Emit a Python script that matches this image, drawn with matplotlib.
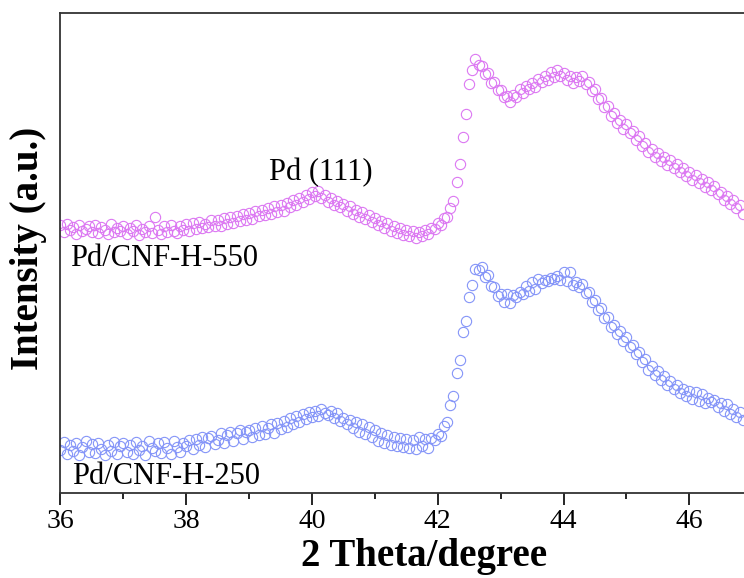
import numpy as np
import matplotlib
matplotlib.use("Agg")
import matplotlib.pyplot as plt
from matplotlib.ticker import MultipleLocator

plt.rcParams['font.family'] = ['Liberation Serif', 'DejaVu Serif']

# 2 theta grid of the scan (step 0.05 degree)
theta_start = 36.0
theta_step = 0.05

# intensity, arbitrary units
h550 = [
    275, 268, 276, 270, 273, 266, 275, 269, 271, 274,
    268, 275, 267, 273, 270, 266, 276, 268, 272, 269,
    274, 266, 272, 269, 275, 265, 271, 268, 274, 267,
    283, 270, 266, 274, 268, 275, 269, 267, 274, 270,
    276, 269, 277, 271, 278, 272, 276, 273, 280, 274,
    280, 274, 282, 276, 283, 277, 284, 279, 286, 280,
    287, 281, 289, 284, 290, 285, 292, 286, 294, 288,
    295, 289, 297, 293, 300, 295, 302, 298, 305, 301,
    308, 304, 309, 302, 305, 298, 302, 295, 299, 293,
    296, 289, 294, 286, 290, 283, 288, 281, 285, 278,
    282, 275, 279, 272, 277, 269, 274, 267, 272, 265,
    270, 264, 269, 262, 268, 264, 270, 266, 272, 271,
    277, 275, 282, 283, 292, 299, 318, 336, 363, 386,
    416, 430, 441, 435, 434, 426, 427, 417, 418, 410,
    410, 403, 404, 398, 405, 403, 411, 407, 414, 411,
    417, 413, 421, 418, 424, 420, 428, 423, 430, 424,
    427, 420, 424, 417, 423, 419, 424, 416, 418, 409,
    411, 401, 402, 393, 394, 384, 387, 377, 380, 371,
    376, 367, 369, 360, 364, 354, 357, 348, 351, 343,
    347, 339, 343, 335, 340, 332, 336, 328, 332, 324,
    328, 320, 325, 317, 321, 313, 318, 310, 314, 306,
    308, 300, 304, 296, 300, 292, 295, 286,
]

h250 = [
    50, 58, 46, 55, 49, 57, 45, 53, 59, 48,
    56, 47, 57, 51, 45, 55, 49, 58, 46, 54,
    57, 48, 55, 46, 58, 50, 54, 45, 59, 52,
    49, 57, 47, 58, 52, 46, 59, 53, 48, 57,
    54, 60, 51, 61, 55, 63, 53, 62, 64, 56,
    60, 67, 57, 65, 68, 59, 67, 70, 61, 68,
    70, 63, 72, 65, 74, 66, 72, 76, 67, 77,
    71, 79, 73, 82, 76, 84, 78, 86, 81, 88,
    83, 89, 84, 91, 87, 85, 89, 82, 87, 79,
    82, 76, 80, 72, 78, 68, 76, 66, 73, 63,
    70, 59, 67, 57, 65, 55, 63, 54, 62, 53,
    61, 52, 60, 51, 63, 54, 61, 52, 62, 60,
    66, 64, 74, 78, 95, 104, 127, 140, 168, 179,
    203, 215, 231, 230, 233, 223, 225, 214, 213, 204,
    206, 198, 206, 197, 205, 203, 208, 206, 214, 209,
    218, 211, 221, 217, 220, 219, 222, 221, 224, 220,
    228, 219, 228, 215, 218, 213, 216, 207, 208, 198,
    200, 190, 192, 182, 183, 173, 175, 166, 169, 159,
    163, 153, 155, 146, 148, 138, 141, 130, 134, 125,
    129, 120, 124, 115, 119, 111, 115, 107, 111, 104,
    109, 101, 108, 99, 106, 97, 102, 98, 100, 93,
    97, 89, 96, 86, 91, 83, 88, 80,
]

two_theta = theta_start + theta_step * np.arange(len(h550))

fig = plt.figure(figsize=(7.44, 5.78), dpi=100)
ax = fig.add_axes([0.0813, 0.147, 0.9187, 0.8305])

ax.plot(two_theta, h550, 'o', ms=7.4, mfc='none', mec='#DC78F2', mew=0.8)
ax.plot(two_theta, h250, 'o', ms=7.4, mfc='none', mec='#8595F8', mew=0.8)

ax.set_xlim(36, 46.87)
ax.set_ylim(7, 487)

ax.text(40.14, 327, 'Pd (111)', fontsize=22, ha='center', va='center')
ax.text(36.15, 242, 'Pd/CNF-H-550', fontsize=22, ha='left', va='center')
ax.text(36.18, 24, 'Pd/CNF-H-250', fontsize=22, ha='left', va='center')

ax.xaxis.set_major_locator(MultipleLocator(2))
ax.xaxis.set_minor_locator(MultipleLocator(1))
ax.tick_params(axis='x', which='major', length=8.5, width=1.2, labelsize=20, pad=3)
ax.tick_params(axis='x', which='minor', length=4.5, width=1.2)
ax.set_yticks([])

for side in ['left', 'top', 'bottom']:
    ax.spines[side].set_linewidth(1.3)
    ax.spines[side].set_color('#333333')
ax.spines['right'].set_visible(False)

ax.set_xlabel('2 Theta/degree', fontsize=28, fontweight='bold')
ax.xaxis.set_label_coords(0.532, -0.133)
ax.xaxis.label.set_va('center')
ax.set_ylabel('Intensity (a.u.)', fontsize=28, fontweight='bold')
ax.yaxis.set_label_coords(-0.0466, 0.51)
ax.yaxis.label.set_va('center')

fig.savefig('out.png', dpi=100)
